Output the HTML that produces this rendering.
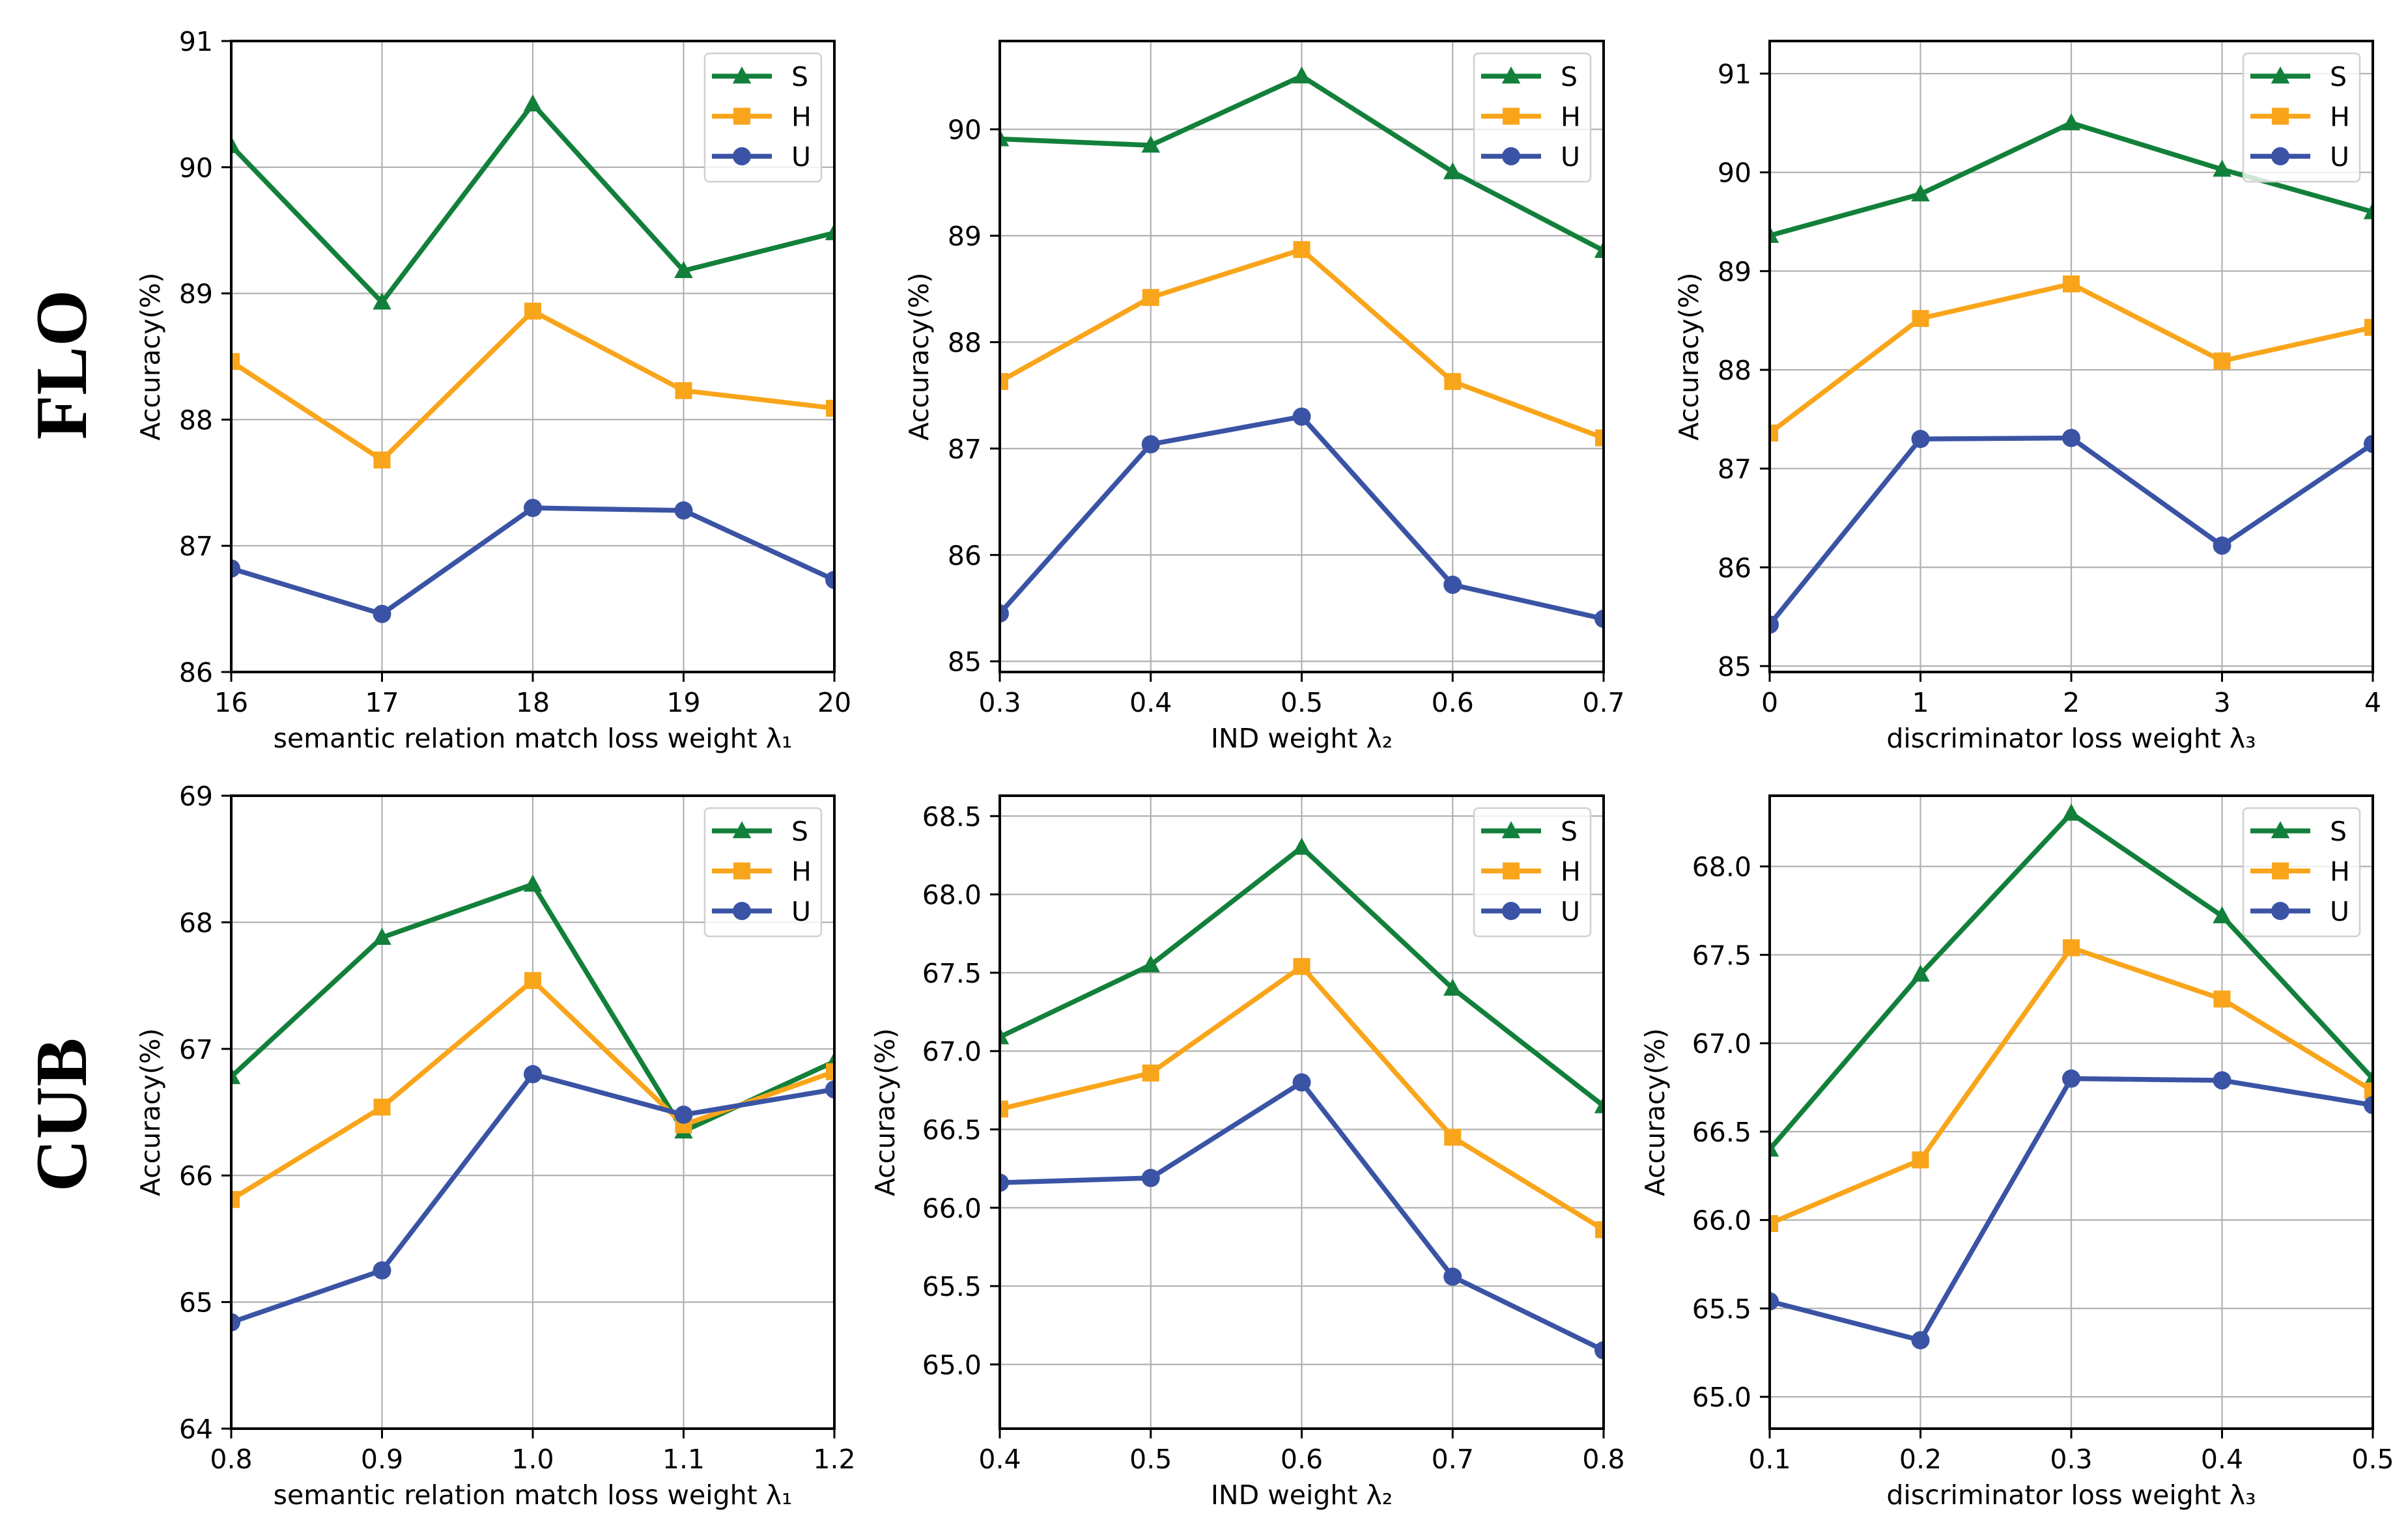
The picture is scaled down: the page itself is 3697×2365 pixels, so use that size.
<!DOCTYPE html>
<html><head><meta charset="utf-8"><style>
html,body{margin:0;padding:0;background:#fff;}
svg{display:block;}
text{font-family:"DejaVu Sans","Liberation Sans",sans-serif;fill:#000;}
</style></head><body>
<svg id="fig" width="3697" height="2365" viewBox="0 0 3697 2365">
<text x="132" y="560" transform="rotate(-90 132 560)" text-anchor="middle" style="font-family:'Liberation Serif',serif;font-weight:bold;font-size:112px">FLO</text>
<text x="132" y="1712" transform="rotate(-90 132 1712)" text-anchor="middle" style="font-family:'Liberation Serif',serif;font-weight:bold;font-size:112px">CUB</text>
</svg>
<script>
// ---- data ----
const xTicks1 = [16,17,18,19,20];
const xTicks2 = [0.3,0.4,0.5,0.6,0.7];
const xTicks3 = [0,1,2,3,4];
const xTicks4 = [0.8,0.9,1.0,1.1,1.2];
const xTicks5 = [0.4,0.5,0.6,0.7,0.8];
const xTicks6 = [0.1,0.2,0.3,0.4,0.5];
const yTicks1 = [86,87,88,89,90,91];
const yTicks2 = [85,86,87,88,89,90];
const yTicks3 = [85,86,87,88,89,90,91];
const yTicks4 = [64,65,66,67,68,69];
const yTicks5 = [65.0,65.5,66.0,66.5,67.0,67.5,68.0,68.5];
const yTicks6 = [65.0,65.5,66.0,66.5,67.0,67.5,68.0];
const S1 = [90.17,88.93,90.5,89.18,89.48];
const H1 = [88.46,87.68,88.86,88.23,88.09];
const U1 = [86.82,86.46,87.3,87.28,86.73];
const S2 = [89.91,89.85,90.5,89.6,88.86];
const H2 = [87.63,88.42,88.87,87.63,87.1];
const U2 = [85.45,87.04,87.3,85.72,85.4];
const S3 = [89.36,89.78,90.5,90.03,89.6];
const H3 = [87.36,88.52,88.87,88.09,88.43];
const U3 = [85.42,87.3,87.31,86.22,87.25];
const S4 = [66.78,67.88,68.3,66.35,66.9];
const H4 = [65.81,66.54,67.54,66.4,66.82];
const U4 = [64.84,65.25,66.8,66.48,66.68];
const S5 = [67.09,67.55,68.3,67.4,66.65];
const H5 = [66.63,66.86,67.54,66.45,65.86];
const U5 = [66.16,66.19,66.8,65.56,65.09];
const S6 = [66.4,67.39,68.3,67.72,66.8];
const H6 = [65.98,66.34,67.54,67.25,66.73];
const U6 = [65.54,65.32,66.8,66.79,66.65];

const NS='http://www.w3.org/2000/svg';
const svg=document.getElementById('fig');
function mk(tag,attrs,parent){const e=document.createElementNS(NS,tag);for(const k in attrs)e.setAttribute(k,attrs[k]);(parent||svg).appendChild(e);return e;}
const GREEN='#12803a',ORANGE='#f9a51b',BLUE='#3a53a4';

const panels=[
 {id:'flo-l1',x0:355,x1:1281,y0:63,y1:1032,xt:xTicks1,yt:yTicks1,xmin:16,xmax:20,ymin:86,ymax:91,S:S1,H:H1,U:U1,xl:'semantic relation match loss weight λ₁',dec:0,xdec:0},
 {id:'flo-l2',x0:1535,x1:2462,y0:63,y1:1032,xt:xTicks2,yt:yTicks2,xmin:0.3,xmax:0.7,ymin:84.9,ymax:90.83,S:S2,H:H2,U:U2,xl:'IND weight λ₂',dec:0,xdec:1},
 {id:'flo-l3',x0:2717,x1:3643,y0:63,y1:1032,xt:xTicks3,yt:yTicks3,xmin:0,xmax:4,ymin:84.94,ymax:91.33,S:S3,H:H3,U:U3,xl:'discriminator loss weight λ₃',dec:0,xdec:0},
 {id:'cub-l1',x0:355,x1:1281,y0:1222,y1:2194,xt:xTicks4,yt:yTicks4,xmin:0.8,xmax:1.2,ymin:64,ymax:69,S:S4,H:H4,U:U4,xl:'semantic relation match loss weight λ₁',dec:0,xdec:1},
 {id:'cub-l2',x0:1535,x1:2462,y0:1222,y1:2194,xt:xTicks5,yt:yTicks5,xmin:0.4,xmax:0.8,ymin:64.59,ymax:68.63,S:S5,H:H5,U:U5,xl:'IND weight λ₂',dec:1,xdec:1},
 {id:'cub-l3',x0:2717,x1:3643,y0:1222,y1:2194,xt:xTicks6,yt:yTicks6,xmin:0.1,xmax:0.5,ymin:64.82,ymax:68.4,S:S6,H:H6,U:U6,xl:'discriminator loss weight λ₃',dec:1,xdec:1}
];

function marker(g,kind,x,y,color){
  let m;
  if(kind==='tri'){const r=15;m=mk('polygon',{points:`${x},${y-r} ${x+r*0.95},${y+r*0.75} ${x-r*0.95},${y+r*0.75}`,fill:color},g);}
  else if(kind==='sq'){const r=13;m=mk('rect',{x:x-r,y:y-r,width:2*r,height:2*r,fill:color},g);}
  else {m=mk('circle',{cx:x,cy:y,r:14,fill:color},g);}
  return m;
}

panels.forEach(p=>{
  const g=mk('g',{});
  
  
  const sx=v=>p.x0+(v-p.xmin)/(p.xmax-p.xmin)*(p.x1-p.x0);
  const sy=v=>p.y1-(v-p.ymin)/(p.ymax-p.ymin)*(p.y1-p.y0);
  const clip=mk('clipPath',{id:'c-'+p.id},g);
  mk('rect',{x:p.x0,y:p.y0,width:p.x1-p.x0,height:p.y1-p.y0},clip);
  // grid
  p.xt.forEach(t=>{const gl=mk('line',{x1:sx(t),x2:sx(t),y1:p.y0,y2:p.y1,stroke:'#b0b0b0','stroke-width':2.2},g);
    });
  p.yt.forEach(t=>{const gl=mk('line',{x1:p.x0,x2:p.x1,y1:sy(t),y2:sy(t),stroke:'#b0b0b0','stroke-width':2.2},g);
    });
  // series
  const series=[['S',p.S,GREEN,'tri'],['H',p.H,ORANGE,'sq'],['U',p.U,BLUE,'circ']];
  const sg=mk('g',{'clip-path':`url(#c-${p.id})`},g);
  series.forEach(([nm,vals,col,kind])=>{
    const pts=vals.map((v,i)=>sx(p.xt[i])+','+sy(v)).join(' ');
    const l=mk('polyline',{points:pts,fill:'none',stroke:col,'stroke-width':7.5,'stroke-linejoin':'round'},sg);
    
    
    vals.forEach((v,i)=>{const m=marker(sg,kind,sx(p.xt[i]),sy(v),col);
      
      });
  });
  // frame
  const fr=mk('rect',{x:p.x0,y:p.y0,width:p.x1-p.x0,height:p.y1-p.y0,fill:'none',stroke:'#000','stroke-width':4},g);
  
  // ticks
  p.xt.forEach(t=>{mk('line',{x1:sx(t),x2:sx(t),y1:p.y1,y2:p.y1+15,stroke:'#000','stroke-width':3},g);
    const tx=mk('text',{x:sx(t),y:p.y1+61,'text-anchor':'middle','font-size':41},g);
    tx.textContent=t.toFixed(p.xdec);
    });
  p.yt.forEach(t=>{mk('line',{x1:p.x0-15,x2:p.x0,y1:sy(t),y2:sy(t),stroke:'#000','stroke-width':3},g);
    const tx=mk('text',{x:p.x0-28,y:sy(t)+15,'text-anchor':'end','font-size':41},g);
    tx.textContent=t.toFixed(p.dec);
    });
  // axis labels
  const xl=mk('text',{x:(p.x0+p.x1)/2,y:p.y1+116,'text-anchor':'middle','font-size':41},g);
  xl.textContent=p.xl;
  
  const maxw=Math.max(...p.yt.map(t=>t.toFixed(p.dec).length));
  const lx=p.x0-28-maxw*26-30;
  const cy=(p.y0+p.y1)/2;
  const yl=mk('text',{x:lx,y:cy,'text-anchor':'middle','font-size':41,transform:`rotate(-90 ${lx} ${cy})`},g);
  yl.textContent='Accuracy(%)';
  
  // legend
  const lg=mk('g',{},g);
  
  const bx=p.x1-199,by=p.y0+19;
  mk('rect',{x:bx,y:by,width:179,height:197,rx:7,fill:'#fff','fill-opacity':0.8,stroke:'#d0d0d0','stroke-width':2.5},lg);
  series.forEach(([nm,vals,col,kind],i)=>{
    const ey=by+35+i*61.5;
    const eg=mk('g',{},lg);
    
    
    mk('line',{x1:bx+11,x2:bx+103,y1:ey,y2:ey,stroke:col,'stroke-width':7.5},eg);
    marker(eg,kind,bx+57,ey,col);
    const t=mk('text',{x:bx+133,y:ey+15,'font-size':41},eg);t.textContent=nm;
  });
});
</script>
</body></html>
